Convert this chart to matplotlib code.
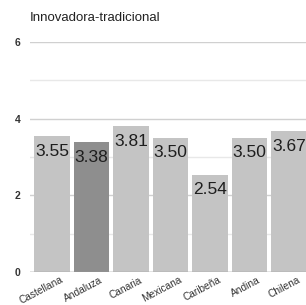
import matplotlib.pyplot as plt
from matplotlib.transforms import ScaledTranslation

plt.rcParams['font.family'] = ['Liberation Sans', 'DejaVu Sans']

variedades = ['Castellana', 'Andaluza', 'Canaria', 'Mexicana', 'Caribeña', 'Andina', 'Chilena']
valores = [3.55, 3.38, 3.81, 3.50, 2.54, 3.50, 3.67]
colores = ['#c4c4c4', '#8e8e8e', '#c4c4c4', '#c4c4c4', '#c4c4c4', '#c4c4c4', '#c4c4c4']

fig = plt.figure(figsize=(3.06, 3.05), dpi=100)
# eje ancho a proposito: el original esta recortado por la derecha
ax = fig.add_axes([30 / 306, 33 / 305, 279 / 306, 230 / 305])

x = range(len(variedades))
ax.bar(x, valores, width=0.9, color=colores, zorder=2)

for i, v in enumerate(valores):
    ax.annotate('%.2f' % v, (i, v), xytext=(0, -5.5), textcoords='offset points',
                ha='center', va='top', fontsize=12.5, color='#1e1e1e', zorder=3)

ax.set_xlim(-0.557, 6.5)
ax.set_ylim(0, 6)
ax.set_yticks([0, 2, 4, 6])
ax.set_yticks([1, 3, 5], minor=True)
ax.grid(axis='y', which='major', color='#d0d0d0', lw=1, zorder=0)
ax.grid(axis='y', which='minor', color='#e8e8e8', lw=1, zorder=0)
ax.axhline(0, color='#999999', lw=1, zorder=3)

for s in ax.spines.values():
    s.set_visible(False)
ax.tick_params(axis='y', which='both', length=0, pad=7, labelsize=7.5)
for t in ax.get_yticklabels():
    t.set_fontweight('bold')
    t.set_color('#333333')

ax.set_xticks(list(x))
ax.set_xticklabels(variedades, rotation=28, ha='right', rotation_mode='anchor',
                   fontsize=7.3, color='#333333')
ax.tick_params(axis='x', length=0, pad=2)
off = ScaledTranslation(8 / 100, 0, fig.dpi_scale_trans)
for t in ax.get_xticklabels():
    t.set_transform(t.get_transform() + off)

fig.text(30 / 306, 1 - 18 / 305, 'Innovadora-tradicional', fontsize=9.5,
         color='#222222', va='center', ha='left')

fig.savefig('out.png', dpi=100)
